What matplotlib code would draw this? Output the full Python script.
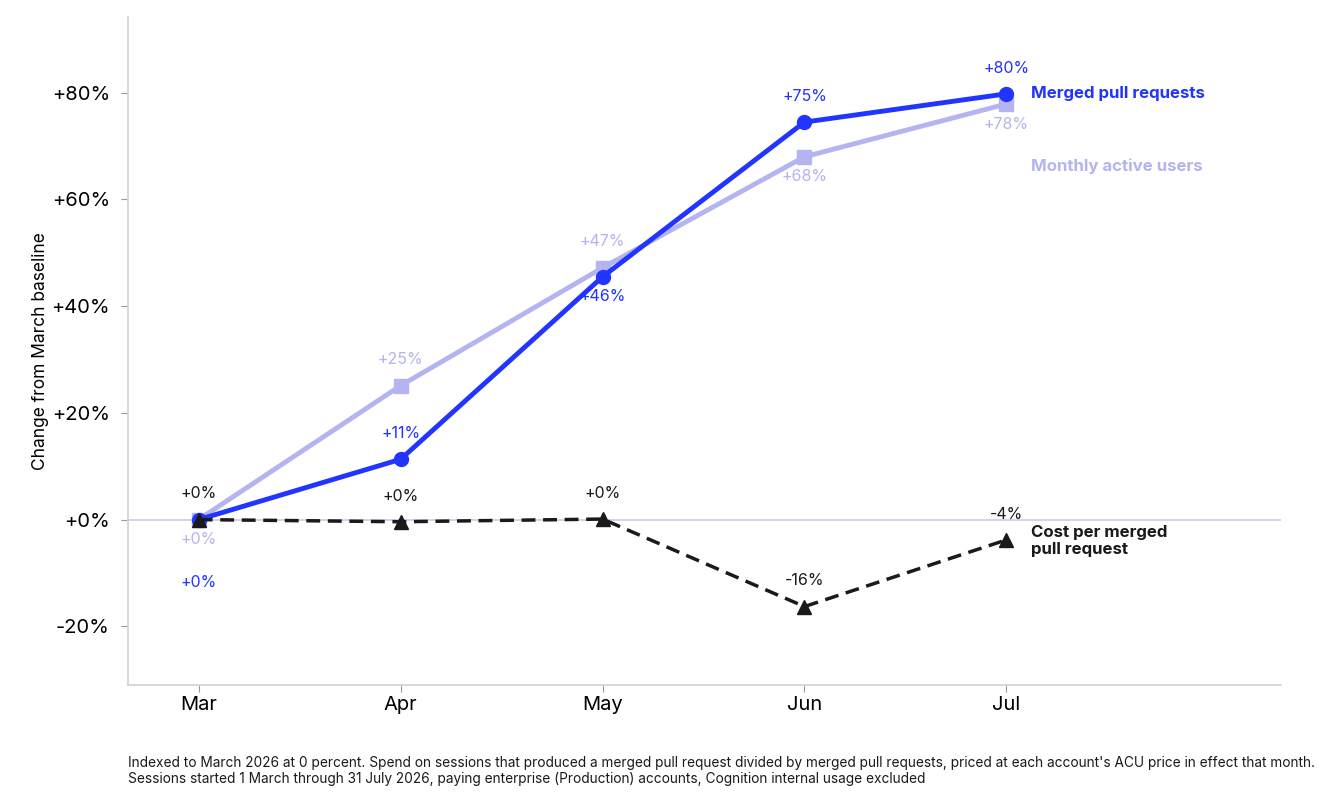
import matplotlib.pyplot as plt

plt.rcParams['font.family'] = ['Inter', 'DejaVu Sans']

months = ['Mar', 'Apr', 'May', 'Jun', 'Jul']
merged_prs = [0, 11.3, 45.5, 74.5, 79.8]
active_users = [0, 25.1, 47.2, 68.0, 77.9]
cost_per_pr = [0, -0.4, 0.1, -16.3, -3.8]

merged_labels = ['+0%', '+11%', '+46%', '+75%', '+80%']
users_labels = ['+0%', '+25%', '+47%', '+68%', '+78%']
cost_labels = ['+0%', '+0%', '+0%', '-16%', '-4%']

# label offsets in points (positive = above)
merged_off = [-45.5, 18.5, -14.5, 18.5, 18.5]
users_off = [-14.5, 18.5, 19, -14.5, -14.5]
cost_off = [18.5, 18.5, 18.5, 19, 18]

yticks = [-20, 0, 20, 40, 60, 80]

blue = '#2234ff'
lavender = '#b4b4f0'
black = '#1a1a1a'

fig = plt.figure(figsize=(13.44, 8.08), dpi=100)
ax = fig.add_axes([128 / 1344, 1 - 685 / 808, (1281 - 128) / 1344, (685 - 17) / 808])

x = list(range(len(months)))

ax.axhline(0, color='#cfcfe8', lw=1.3, zorder=1)

ax.plot(x, active_users, color=lavender, lw=3.5, marker='s', ms=10, zorder=2)
ax.plot(x, merged_prs, color=blue, lw=3.5, marker='o', ms=10, zorder=3)
ax.plot(x, cost_per_pr, color=black, lw=2.5, ls=(0, (4, 2.2)), marker='^', ms=10, zorder=4)

for i in x:
    ax.annotate(users_labels[i], (i, active_users[i]), xytext=(0, users_off[i]),
                textcoords='offset points', ha='center', va='center', color=lavender, fontsize=11.5)
    ax.annotate(merged_labels[i], (i, merged_prs[i]), xytext=(0, merged_off[i]),
                textcoords='offset points', ha='center', va='center', color=blue, fontsize=11.5)
    ax.annotate(cost_labels[i], (i, cost_per_pr[i]), xytext=(0, cost_off[i]),
                textcoords='offset points', ha='center', va='center', color=black, fontsize=11.5)

ax.annotate('Merged pull requests', (4, merged_prs[4]), xytext=(18, 0), textcoords='offset points',
            ha='left', va='center', color=blue, fontsize=12.1, fontweight='bold')
ax.annotate('Monthly active users', (4, 66.3), xytext=(18, 0), textcoords='offset points',
            ha='left', va='center', color=lavender, fontsize=12.1, fontweight='bold')
ax.annotate('Cost per merged\npull request', (4, -4.0), xytext=(18, 0), textcoords='offset points',
            ha='left', va='center', color=black, fontsize=12.1, fontweight='bold', linespacing=1.15)

ax.set_xlim(-0.35, 5.36)
ax.set_ylim(-31, 94.2)
ax.set_xticks(x)
ax.set_xticklabels(months, fontsize=14.5)
ax.set_yticks(yticks)
ax.set_yticklabels([f'+{v}%' if v >= 0 else f'{v}%' for v in yticks], fontsize=14.5)
ax.tick_params(length=5, color='#999999', pad=8)
ax.tick_params(axis='x', pad=3)
ax.set_ylabel('Change from March baseline', fontsize=12.5, labelpad=2)

for s in ['top', 'right']:
    ax.spines[s].set_visible(False)
for s in ['left', 'bottom']:
    ax.spines[s].set_color('#d4d4d4')
    ax.spines[s].set_linewidth(1.3)

fig.text(128 / 1344, 1 - 771 / 808,
         "Indexed to March 2026 at 0 percent. Spend on sessions that produced a merged pull request divided by merged pull requests, priced at each account's ACU price in effect that month.\n"
         "Sessions started 1 March through 31 July 2026, paying enterprise (Production) accounts, Cognition internal usage excluded",
         fontsize=9.85, color=black, va='center', linespacing=1.1)

fig.savefig('out.png', dpi=100)
